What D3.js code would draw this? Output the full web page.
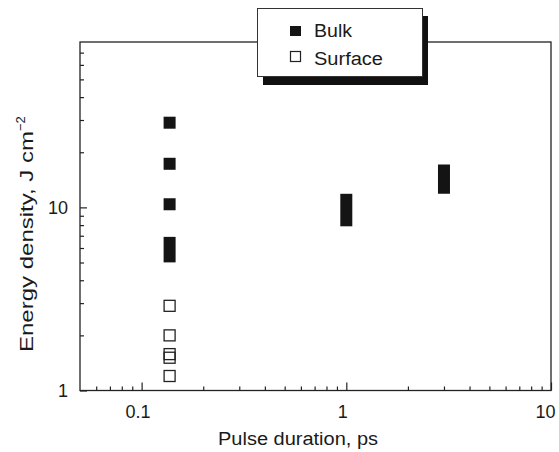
<!DOCTYPE html>
<html>
<head>
<meta charset="utf-8">
<script src="https://cdn.jsdelivr.net/npm/d3@7"></script>
<style>
  body { margin: 0; background: #fff; }
  text { font-family: "Liberation Sans", Arial, Helvetica, sans-serif; fill: #1a1a1a; }
</style>
</head>
<body>
<div id="chart"></div>
<script>
// data
var bulkDuration = [0.137, 0.137, 0.137, 0.137, 1, 3];
var bulkLow = [29, 17.3, 10.4, 5.4, 8.5, 12.8];
var bulkHigh = [29, 17.3, 10.4, 6.4, 11.0, 15.9];

var surfaceDuration = [0.137, 0.137, 0.137, 0.137, 0.137];
var surfaceValue = [2.9, 2.0, 1.58, 1.51, 1.2];

var xMajorTicks = [0.1, 1, 10];
var xMinorTicks = [0.06, 0.07, 0.08, 0.09, 0.2, 0.3, 0.4, 0.5, 0.6, 0.7, 0.8, 0.9, 2, 3, 4, 5, 6, 7, 8, 9];
var yMajorTicks = [1, 10];
var yMinorTicks = [2, 3, 4, 5, 6, 7, 8, 9, 20, 30, 40, 50, 60, 70];

var legendLabels = ["Bulk", "Surface"];

var width = 559, height = 452;
var margin = { top: 42, right: 8, bottom: 61.5, left: 80 };

var svg = d3.select("#chart")
    .append("svg")
    .attr("width", width)
    .attr("height", height);

var x = d3.scaleLog()
    .domain([0.05, 10])
    .range([margin.left, width - margin.right]);

var y = d3.scaleLog()
    .domain([1, 80])
    .range([height - margin.bottom, margin.top]);

// frame
svg.append("rect")
    .attr("x", x(0.05))
    .attr("y", y(80))
    .attr("width", x(10) - x(0.05))
    .attr("height", y(1) - y(80))
    .attr("fill", "none")
    .attr("stroke", "#222")
    .attr("stroke-width", 1.3);

// bottom axis, ticks pointing inward
var xMinor = svg.append("g")
    .attr("transform", "translate(0," + y(1) + ")")
    .call(d3.axisBottom(x).tickValues(xMinorTicks).tickSize(-4).tickFormat(""));
var xMajor = svg.append("g")
    .attr("transform", "translate(0," + y(1) + ")")
    .call(d3.axisBottom(x).tickValues(xMajorTicks).tickSize(-8).tickPadding(24)
        .tickFormat(function (d) { return d3.format("~g")(d); }));

// left axis
var yMinor = svg.append("g")
    .attr("transform", "translate(" + x(0.05) + ",0)")
    .call(d3.axisLeft(y).tickValues(yMinorTicks).tickSize(-4).tickFormat(""));
var yMajor = svg.append("g")
    .attr("transform", "translate(" + x(0.05) + ",0)")
    .call(d3.axisLeft(y).tickValues(yMajorTicks).tickSize(-7).tickPadding(12)
        .tickFormat(function (d) { return d3.format("~g")(d); }));

[xMinor, xMajor, yMinor, yMajor].forEach(function (g) {
    g.select(".domain").remove();
    g.selectAll(".tick line").attr("stroke", "#222").attr("stroke-width", 1.2);
    g.selectAll(".tick text")
        .attr("fill", "#1a1a1a")
        .style("font-size", "18px")
        .style("font-family", "'Liberation Sans', Arial, Helvetica, sans-serif");
});
xMajor.selectAll(".tick text")
    .attr("dy", "0.2em")
    .attr("x", function (d) { return d === 10 ? -6 : -4; });

// axis titles
svg.append("text")
    .attr("x", 218)
    .attr("y", 445)
    .attr("textLength", 160)
    .attr("lengthAdjust", "spacingAndGlyphs")
    .style("font-size", "18px")
    .text("Pulse duration, ps");

var yTitle = svg.append("text")
    .attr("transform", "translate(33,352) rotate(-90)")
    .style("font-size", "18px");
yTitle.append("tspan")
    .attr("textLength", 221)
    .attr("lengthAdjust", "spacingAndGlyphs")
    .text("Energy density, J cm");
yTitle.append("tspan").attr("dy", -8).style("font-size", "13px").text("\u22122");

// bulk: filled bars spanning the measured range
var half = 6;
svg.selectAll(".bulk")
    .data(bulkDuration)
    .enter()
    .append("rect")
    .attr("class", "bulk")
    .attr("x", function (d) { return x(d) - half; })
    .attr("y", function (d, i) { return y(bulkHigh[i]) - half; })
    .attr("width", half * 2)
    .attr("height", function (d, i) { return y(bulkLow[i]) - y(bulkHigh[i]) + half * 2; })
    .attr("fill", "#141414");

// surface: open squares
svg.selectAll(".surface")
    .data(surfaceDuration)
    .enter()
    .append("rect")
    .attr("class", "surface")
    .attr("x", function (d) { return x(d) - 5.5; })
    .attr("y", function (d, i) { return y(surfaceValue[i]) - 5.5; })
    .attr("width", 11)
    .attr("height", 11)
    .attr("fill", "none")
    .attr("stroke", "#222")
    .attr("stroke-width", 1.3);

// legend with drop shadow
var legend = svg.append("g");
legend.append("rect")
    .attr("x", 263).attr("y", 16)
    .attr("width", 165).attr("height", 69)
    .attr("fill", "#111");
legend.append("rect")
    .attr("x", 257.5).attr("y", 8.5)
    .attr("width", 165).attr("height", 68)
    .attr("fill", "#fff")
    .attr("stroke", "#333")
    .attr("stroke-width", 1);

var legendWidths = [38, 69];
legendLabels.forEach(function (label, i) {
    var ly = 31 + i * 25;
    legend.append("rect")
        .attr("x", i === 0 ? 290 : 290.5)
        .attr("y", i === 0 ? ly - 5 : ly - 4.5)
        .attr("width", i === 0 ? 11 : 10)
        .attr("height", 10)
        .attr("fill", i === 0 ? "#141414" : "#fff")
        .attr("stroke", i === 0 ? "none" : "#222")
        .attr("stroke-width", 1.2);
    legend.append("text")
        .attr("x", 314)
        .attr("y", i === 0 ? 36.5 : 64.5)
        .attr("textLength", legendWidths[i])
        .attr("lengthAdjust", "spacingAndGlyphs")
        .style("font-size", "18px")
        .text(label);
});
</script>
</body>
</html>
